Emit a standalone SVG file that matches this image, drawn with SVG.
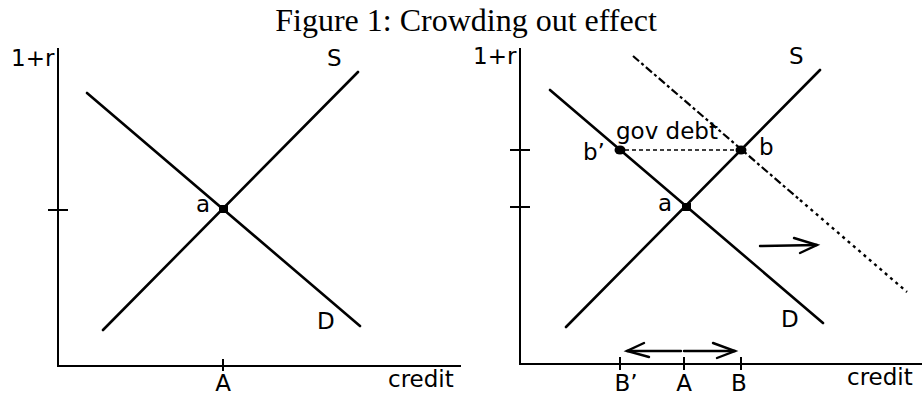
<svg xmlns="http://www.w3.org/2000/svg" width="922" height="398" viewBox="0 0 922 398">
<style>
.t{font-family:"Liberation Serif","Times New Roman",serif;font-size:32px;fill:#000}
.l{font-family:"DejaVu Sans","Verdana",sans-serif;font-size:23px;fill:#000}
.ax{stroke:#000;stroke-width:2;fill:none}
.cv{stroke:#000;stroke-width:2.6;fill:none;stroke-linecap:round}
.ar{stroke:#000;stroke-width:2.4;fill:none;stroke-linecap:round}
.dot{fill:#000}
</style>
<rect width="922" height="398" fill="#fff"/>
<text class="t" x="466" y="31" text-anchor="middle">Figure 1: Crowding out effect</text>

<g id="left-chart">
  <g id="left-axes">
    <line class="ax" x1="58" y1="48" x2="58" y2="366"/>
    <line class="ax" x1="57" y1="366" x2="461" y2="366"/>
    <line class="ax" x1="48" y1="210" x2="68" y2="210"/>
    <line class="ax" x1="223" y1="359" x2="223" y2="371"/>
    <text class="l" x="11" y="66">1+r</text>
    <text class="l" x="388" y="387">credit</text>
    <text class="l" x="223" y="391" text-anchor="middle">A</text>
  </g>
  <g id="left-S">
    <line class="cv" x1="103" y1="330" x2="358" y2="72"/>
    <text class="l" x="327" y="66">S</text>
  </g>
  <g id="left-D">
    <line class="cv" x1="87" y1="93" x2="360" y2="326"/>
    <text class="l" x="317" y="329">D</text>
  </g>
  <g id="left-a">
    <rect class="dot" x="219" y="205" width="9" height="8"/>
    <text class="l" x="196" y="212">a</text>
  </g>
</g>

<g id="right-chart">
  <g id="right-axes">
    <line class="ax" x1="520" y1="48" x2="520" y2="364"/>
    <line class="ax" x1="519" y1="364" x2="922" y2="364"/>
    <line class="ax" x1="510" y1="150" x2="530" y2="150"/>
    <line class="ax" x1="510" y1="207" x2="530" y2="207"/>
    <line class="ax" x1="620" y1="357" x2="620" y2="370"/>
    <line class="ax" x1="684" y1="357" x2="684" y2="370"/>
    <line class="ax" x1="741" y1="357" x2="741" y2="370"/>
    <text class="l" x="473" y="64">1+r</text>
    <text class="l" x="847" y="385">credit</text>
    <text class="l" x="626" y="391" text-anchor="middle">B’</text>
    <text class="l" x="684" y="391" text-anchor="middle">A</text>
    <text class="l" x="739" y="391" text-anchor="middle">B</text>
  </g>
  <g id="right-S">
    <line class="cv" x1="566" y1="327" x2="820" y2="70"/>
    <text class="l" x="789" y="64">S</text>
  </g>
  <g id="right-D">
    <line class="cv" x1="550" y1="90" x2="823" y2="323"/>
    <text class="l" x="781" y="327">D</text>
  </g>
  <g id="right-D-shifted">
    <line x1="633" y1="56" x2="800" y2="200" stroke="#000" stroke-width="2.2" stroke-dasharray="8 3 3 3"/>
    <line x1="800" y1="200" x2="907" y2="292" stroke="#000" stroke-width="2.4" stroke-dasharray="3 4"/>
  </g>
  <g id="right-a">
    <rect class="dot" x="682" y="203" width="9" height="8"/>
    <text class="l" x="658" y="211">a</text>
  </g>
  <g id="right-b">
    <ellipse class="dot" cx="741" cy="150" rx="5.5" ry="4.5"/>
    <text class="l" x="759" y="155">b</text>
  </g>
  <g id="right-b-prime">
    <ellipse class="dot" cx="620" cy="150" rx="5.5" ry="4.5"/>
    <text class="l" x="583" y="160">b’</text>
  </g>
  <g id="gov-debt">
    <line x1="625" y1="150" x2="736" y2="150" stroke="#000" stroke-width="1.6" stroke-dasharray="4 3"/>
    <text class="l" x="616" y="139">gov debt</text>
  </g>
</g>

<g id="connectors">
  <g id="shift-arrow">
    <line class="ar" x1="760" y1="246" x2="817" y2="245"/>
    <polyline class="ar" points="794,238 817,245 800,253"/>
  </g>
  <g id="crowd-out-arrows">
    <line class="ar" x1="681" y1="351" x2="627" y2="351"/>
    <polyline class="ar" points="644,343 627,351 649,357"/>
    <line class="ar" x1="684" y1="351" x2="735" y2="351"/>
    <polyline class="ar" points="713,343 735,351 717,358"/>
  </g>
</g>
</svg>
